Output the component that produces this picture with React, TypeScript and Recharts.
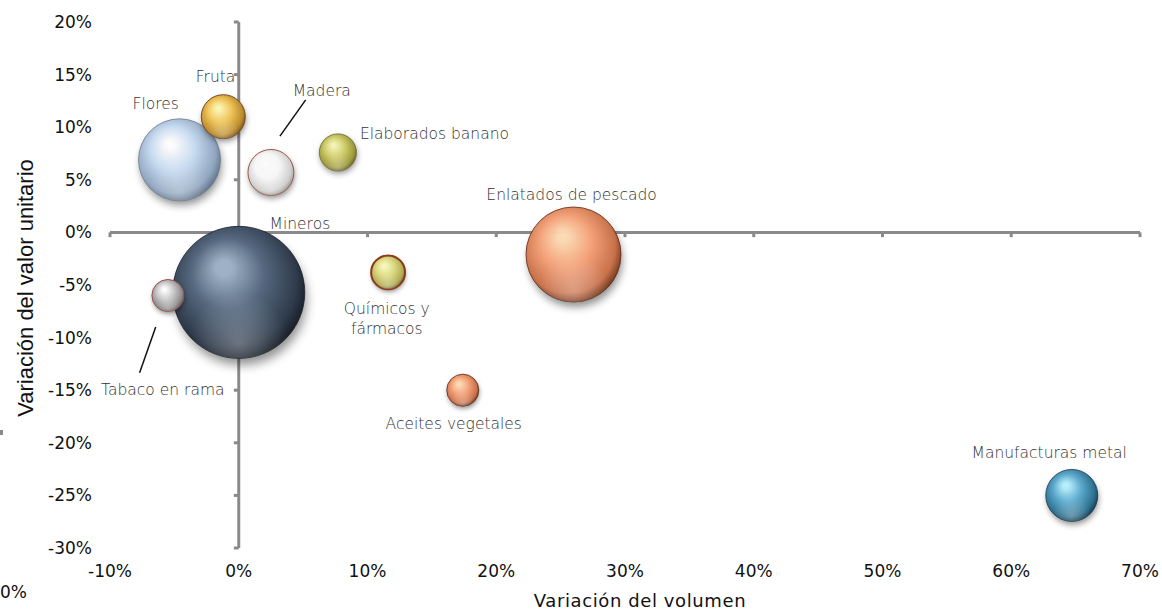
import {
  ScatterChart, Scatter, XAxis, YAxis, ZAxis, ReferenceLine, Label,
} from "recharts";

// productos: variación del volumen (%), variación del valor unitario (%), peso (tamaño burbuja)
const names = [
  "Flores", "Fruta", "Madera", "Elaborados banano", "Mineros",
  "Tabaco en rama", "Químicos y fármacos", "Enlatados de pescado",
  "Aceites vegetales", "Manufacturas metal",
];
const volumen = [-4.6, -1.2, 2.5, 7.7, 0.0, -5.5, 11.6, 26.0, 17.4, 64.7];
const valorUnitario = [6.9, 11.0, 5.7, 7.6, -5.7, -6.0, -3.8, -2.1, -15.0, -25.0];
const peso = [386, 111, 121, 79, 1000, 59, 66, 518, 59, 155];

const xTicks = [-10, 0, 10, 20, 30, 40, 50, 60, 70];
const yTicks = [-30, -25, -20, -15, -10, -5, 0, 5, 10, 15, 20];

// where each label text sits, in chart units
const labelText = [
  "Flores", "Fruta", "Madera", "Elaborados banano", "Mineros",
  "Tabaco en rama", "Químicos y\nfármacos", "Enlatados de pescado",
  "Aceites vegetales", "Manufacturas metal",
];
const labelX = [-6.45, -1.8, 6.45, 15.2, 4.75, -5.9, 11.5, 25.85, 16.7, 62.95];
const labelY = [12.3, 14.8, 13.45, 9.45, 0.9, -14.9, -8.15, 3.65, -18.2, -20.95];

// leader lines [x1, y1, x2, y2]
const leaders = [
  [5.2, 12.6, 3.2, 9.15],
  [-6.45, -9.0, -7.7, -13.35],
];

const COLORS: Record<string, { hi: string; base: string; dark: string; edge: string; ring: string; rw: number }> = {
  "Flores": { hi: "#ffffff", base: "#c6daf0", dark: "#90a6bf", edge: "#55657a", ring: "#6a7a8c", rw: 0.8 },
  "Fruta": { hi: "#fff6b0", base: "#f0c45a", dark: "#bb8c2c", edge: "#6a4816", ring: "#7a4a2a", rw: 1 },
  "Madera": { hi: "#ffffff", base: "#f6f6f6", dark: "#cfcfcf", edge: "#8c8c8c", ring: "#9a5a4a", rw: 1 },
  "Elaborados banano": { hi: "#f6f6b6", base: "#d0cd6c", dark: "#9d9a3c", edge: "#5a5820", ring: "#6a6a30", rw: 0.8 },
  "Mineros": { hi: "#9fb2c8", base: "#566980", dark: "#2f3b4b", edge: "#12161d", ring: "#1a2029", rw: 0.8 },
  "Tabaco en rama": { hi: "#ffffff", base: "#c8c8c8", dark: "#8c8c8c", edge: "#505050", ring: "#a05050", rw: 1 },
  "Químicos y fármacos": { hi: "#fafabc", base: "#dcd982", dark: "#aeab52", edge: "#6a4a20", ring: "#8a3a18", rw: 2 },
  "Enlatados de pescado": { hi: "#ffdcb4", base: "#f4a27a", dark: "#c8714b", edge: "#5e2a14", ring: "#5e2a14", rw: 0.8 },
  "Aceites vegetales": { hi: "#ffdcb4", base: "#f4a27a", dark: "#c8714b", edge: "#5e2a14", ring: "#5e2a14", rw: 0.8 },
  "Manufacturas metal": { hi: "#b6f0ff", base: "#5ca9cd", dark: "#2d6f8e", edge: "#10303e", ring: "#163848", rw: 0.8 },
};

const bubbles = names.map((name, i) => ({ name, x: volumen[i], y: valorUnitario[i], z: peso[i] }));
const labels = labelText.map((text, i) => ({ text, x: labelX[i], y: labelY[i] }));

const TICK_FONT = { fontFamily: "DejaVu Sans", fontSize: 17, fill: "#111" };
const AXIS_GRAY = "#8a8a8a";

function Sphere(props: any) {
  const { cx, cy, width, payload } = props;
  if (cx == null || cy == null) return null;
  const r = width / 2;
  const c = COLORS[payload.name];
  const id = "s" + names.indexOf(payload.name);
  return (
    <g>
      <defs>
        <radialGradient id={id + "g"} cx="46%" cy="44%" r="60%" fx="38%" fy="30%">
          <stop offset="0%" stopColor={c.hi} />
          <stop offset="10%" stopColor={c.hi} stopOpacity={0.95} />
          <stop offset="45%" stopColor={c.base} />
          <stop offset="82%" stopColor={c.dark} />
          <stop offset="100%" stopColor={c.edge} />
        </radialGradient>
        <radialGradient id={id + "b"} cx="50%" cy="88%" r="38%">
          <stop offset="0%" stopColor="#ffffff" stopOpacity={0.28} />
          <stop offset="100%" stopColor="#ffffff" stopOpacity={0} />
        </radialGradient>
        <filter id={id + "f"} x="-60%" y="-60%" width="220%" height="220%">
          <feGaussianBlur stdDeviation={2 + r * 0.05} />
        </filter>
      </defs>
      <circle cx={cx + r * 0.04} cy={cy + r * 0.1 + 1} r={r * 0.98} fill="#000" opacity={0.45} filter={`url(#${id}f)`} />
      <circle cx={cx} cy={cy} r={r} fill={`url(#${id}g)`} stroke={c.ring} strokeWidth={c.rw} />
      <circle cx={cx} cy={cy} r={r} fill={`url(#${id}b)`} />
    </g>
  );
}

function LabelText(props: any) {
  const { cx, cy, payload } = props;
  if (cx == null || cy == null) return null;
  const lines = String(payload.text).split("\n");
  const lh = 20;
  const y0 = cy - ((lines.length - 1) * lh) / 2;
  return (
    <text textAnchor="middle" fontFamily="DejaVu Sans" fontWeight={200} fontSize={15.5} fill="#333">
      {lines.map((l, i) => (
        <tspan key={i} x={cx} y={y0 + i * lh} dy="0.36em">{l}</tspan>
      ))}
    </text>
  );
}

export default function App() {
  return (
    <div style={{ position: "relative", width: 1162, height: 611 }}>
      <style>{"body{margin:0}"}</style>
      <ScatterChart width={1162} height={611} margin={{ top: 22, right: 22, bottom: 33, left: 50 }}>
        <XAxis
          type="number" dataKey="x" domain={[-10, 70]} ticks={xTicks}
          tickFormatter={(v) => `${v}%`} axisLine={false} tickLine={false}
          tick={TICK_FONT} tickMargin={11}
        >
          <Label value="Variación del volumen" position="bottom" offset={16} dx={15}
            style={{ fontFamily: "DejaVu Sans", fontSize: 18, letterSpacing: 0.6, fill: "#111" }} />
        </XAxis>
        <YAxis
          type="number" dataKey="y" domain={[-30, 20]} ticks={yTicks}
          tickFormatter={(v) => `${v}%`} axisLine={false} tickLine={false}
          tick={TICK_FONT} tickMargin={12}
        >
          <Label
            content={({ viewBox }: any) => {
              const x = viewBox.x - 25;
              const y = viewBox.y + viewBox.height / 2 + 3;
              return (
                <text x={x} y={y} transform={`rotate(-90 ${x} ${y})`} textAnchor="middle"
                  dominantBaseline="central" fontFamily="Liberation Sans" fontSize={22} fill="#111">
                  Variación del valor unitario
                </text>
              );
            }}
          />
        </YAxis>
        <ZAxis type="number" dataKey="z" domain={[0, 1000]} range={[0, Math.PI * 66 * 66]} />

        <ReferenceLine y={0} stroke={AXIS_GRAY} strokeWidth={3} />
        <ReferenceLine x={0} stroke={AXIS_GRAY} strokeWidth={3} />
        {xTicks.map((t) => (
          <ReferenceLine key={"xt" + t} segment={[{ x: t, y: 0 }, { x: t, y: -0.45 }]}
            stroke={AXIS_GRAY} strokeWidth={3} />
        ))}
        {yTicks.map((t) => (
          <ReferenceLine key={"yt" + t} segment={[{ x: 0, y: t }, { x: -0.38, y: t }]}
            stroke={AXIS_GRAY} strokeWidth={3} />
        ))}
        {leaders.map((l, i) => (
          <ReferenceLine key={"ld" + i} segment={[{ x: l[0], y: l[1] }, { x: l[2], y: l[3] }]}
            stroke="#111" strokeWidth={1.5} />
        ))}

        <Scatter data={bubbles} shape={<Sphere />} isAnimationActive={false} />
        <Scatter data={labels} shape={<LabelText />} isAnimationActive={false} />
      </ScatterChart>
      <svg width={1162} height={611} style={{ position: "absolute", left: 0, top: 0, pointerEvents: "none" }}>
        <text x={0} y={592} dominantBaseline="central" fontFamily="DejaVu Sans" fontSize={17} fill="#111">0%</text>
        <rect x={0} y={430} width={3} height={5} fill={AXIS_GRAY} />
      </svg>
    </div>
  );
}
